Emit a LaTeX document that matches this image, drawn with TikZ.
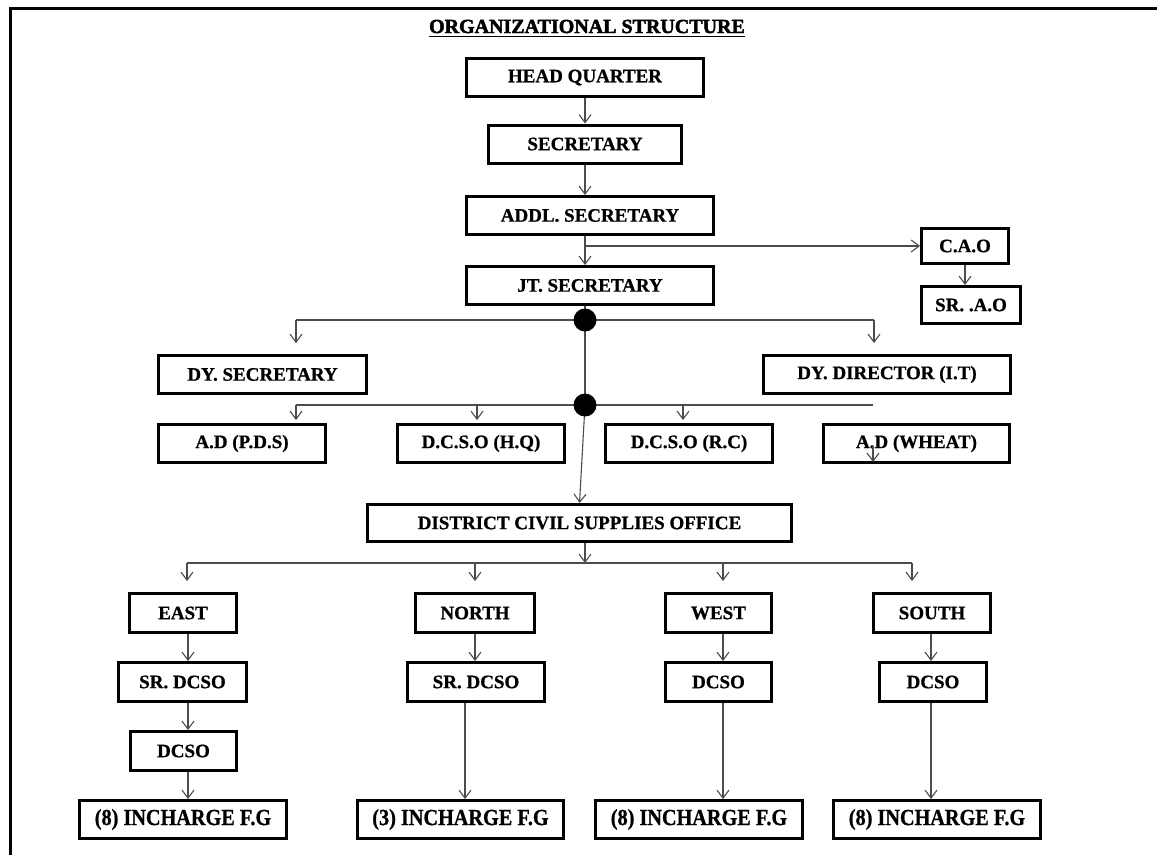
\documentclass[tikz,border=0pt]{standalone}
\usepackage{fontspec}
\usepackage{graphicx}
\setmainfont{Liberation Serif}[BoldFeatures={FakeBold=0.8}]
\newfontfamily\titlefont{Liberation Serif Bold}[FakeBold=2.2]
\usetikzlibrary{arrows.meta,calc}
\begin{document}
\begin{tikzpicture}[x=1pt,y=-1pt,
 box/.style={draw,line width=3pt,fill=white,inner sep=0pt,font=\fontsize{19}{19}\selectfont\bfseries,minimum height=38pt},
 conn/.style={draw=black!70,line width=1.1pt},
 arr/.style={conn,-{Straight Barb[length=8pt,width=12pt,line width=1.1pt]}},
 incbox/.style={box,font=\fontsize{23}{23}\selectfont\bfseries},
 dot/.style={circle,fill=black,inner sep=0pt,minimum size=23pt},
]
\useasboundingbox (0,0) rectangle (1157,855);
\fill[white] (0,0) rectangle (1157,855);
% frame
\draw[line width=3pt] (10,855) -- (10,8) -- (1157,8);

% title
\node[inner sep=0pt,font=\fontsize{20}{20}\selectfont\titlefont,anchor=base] (title) at (587,33) {ORGANIZATIONAL STRUCTURE};
\draw[line width=1.8pt] ([yshift=-3.5pt]title.base west) -- ([yshift=-3.5pt]title.base east);

% spine coordinates
\coordinate (d1) at (585,320);
\coordinate (d2) at (585,405);
\coordinate (l1) at (296,320);
\coordinate (r1) at (874,320);
\coordinate (l2) at (296,405);
\coordinate (m2) at (477,405);
\coordinate (n2) at (683,405);
\coordinate (r2) at (873,405);
\coordinate (h3l) at (187,563);
\coordinate (h3n) at (475,563);
\coordinate (h3w) at (723,563);
\coordinate (h3r) at (912,563);
\coordinate (ce) at (188,0);
\coordinate (cn) at (475,0);
\coordinate (cnb) at (465,0);
\coordinate (cw) at (723,0);
\coordinate (cs) at (931,0);

% boxes
\node[box,minimum width=237pt] (hq) at (585,77.5) {HEAD QUARTER};
\node[box,minimum width=193pt] (sec) at (585,144) {SECRETARY};
\node[box,minimum width=247pt] (addl) at (590,215.5) {ADDL. SECRETARY};
\node[box,minimum width=247pt] (jt) at (590,285.5) {JT. SECRETARY};
\node[box,minimum width=87pt,minimum height=35pt] (cao) at (965,246) {C.A.O};
\node[box,minimum width=99pt,minimum height=37pt] (srao) at (971,305) {SR. .A.O};
\node[box,minimum width=208pt] (dysec) at (262.5,374.5) {DY. SECRETARY};
\node[box,minimum width=247pt] (dydir) at (887,374.5) {DY. DIRECTOR (I.T)};
\node[box,minimum width=167pt] (adpds) at (242,443.5) {A.D (P.D.S)};
\node[box,minimum width=167pt] (dcsohq) at (481,443.5) {D.C.S.O (H.Q)};
\node[box,minimum width=167pt] (dcsorc) at (689,443.5) {D.C.S.O (R.C)};
\node[box,minimum width=186pt] (adwheat) at (916.5,443.5) {A.D (WHEAT)};
\node[box,minimum width=424pt,minimum height=37pt] (district) at (579.5,523) {DISTRICT CIVIL SUPPLIES OFFICE};
\node[box,minimum width=107pt,minimum height=39pt] (east) at (183,613) {EAST};
\node[box,minimum width=119pt,minimum height=39pt] (north) at (475,613) {NORTH};
\node[box,minimum width=106pt,minimum height=39pt] (west) at (718.5,613) {WEST};
\node[box,minimum width=117pt,minimum height=39pt] (south) at (932,613) {SOUTH};
\node[box,minimum width=128pt,minimum height=39pt] (esr) at (182.5,682) {SR. DCSO};
\node[box,minimum width=137pt,minimum height=39pt] (nsr) at (476,682) {SR. DCSO};
\node[box,minimum width=106pt,minimum height=39pt] (wdcso) at (718.5,682) {DCSO};
\node[box,minimum width=107pt,minimum height=39pt] (sdcso) at (933,682) {DCSO};
\node[box,minimum width=106pt,minimum height=39pt] (edcso) at (183.5,751) {DCSO};
\node[incbox,minimum width=207pt] (inc1) at (183,819.5) {\scalebox{0.88}[1]{(8) INCHARGE F.G}};
\node[incbox,minimum width=206pt] (inc2) at (460.5,819.5) {\scalebox{0.88}[1]{(3) INCHARGE F.G}};
\node[incbox,minimum width=207pt] (inc3) at (699,819.5) {\scalebox{0.88}[1]{(8) INCHARGE F.G}};
\node[incbox,minimum width=207pt] (inc4) at (937,819.5) {\scalebox{0.88}[1]{(8) INCHARGE F.G}};

% top connectors
\draw[arr] (hq.south) -- (sec.north);
\draw[arr] (sec.south) -- (addl.north -| sec.south);
\draw[arr] (addl.south -| d1) -- (jt.north -| d1);
\draw[arr] (d1 |- cao.west) -- (cao.west);
\draw[arr] (cao.south) -- (srao.north -| cao.south);
\draw[conn] (jt.south -| d1) -- (d1);
\draw[conn] (l1) -- (r1);
\draw[arr,shorten >=11pt] (l1) -- (l1 |- dysec.north);
\draw[arr,shorten >=11pt] (r1) -- (r1 |- dydir.north);
\draw[conn] (d1) -- (d2);
\draw[conn] (l2) -- (r2);
\draw[arr,shorten >=3pt] (l2) -- (l2 |- adpds.north);
\draw[arr,shorten >=3pt] (m2) -- (m2 |- dcsohq.north);
\draw[arr,shorten >=3pt] (n2) -- (n2 |- dcsorc.north);
\draw[arr,shorten >=2pt] ([yshift=-2pt]r2 |- adwheat.center) -- (r2 |- adwheat.south);
\draw[arr] (d2) -- (district.north);
\node[dot] (dot1) at (d1) {};
\node[dot] (dot2) at (d2) {};

% district connectors
\draw[arr] (district.south -| d1) -- (d1 |- h3l);
\draw[conn] (h3l) -- (h3r);
\draw[arr,shorten >=11pt] (h3l) -- (h3l |- east.north);
\draw[arr,shorten >=11pt] (h3n) -- (h3n |- north.north);
\draw[arr,shorten >=11pt] (h3w) -- (h3w |- west.north);
\draw[arr,shorten >=11pt] (h3r) -- (h3r |- south.north);

% columns
\draw[arr] (east.south -| ce) -- (esr.north -| ce);
\draw[arr] (esr.south -| ce) -- (edcso.north -| ce);
\draw[arr] (edcso.south -| ce) -- (inc1.north -| ce);
\draw[arr] (north.south -| cn) -- (nsr.north -| cn);
\draw[arr] (nsr.south -| cnb) -- (inc2.north -| cnb);
\draw[arr] (west.south -| cw) -- (wdcso.north -| cw);
\draw[arr] (wdcso.south -| cw) -- (inc3.north -| cw);
\draw[arr] (south.south -| cs) -- (sdcso.north -| cs);
\draw[arr] (sdcso.south -| cs) -- (inc4.north -| cs);
\end{tikzpicture}
\end{document}
